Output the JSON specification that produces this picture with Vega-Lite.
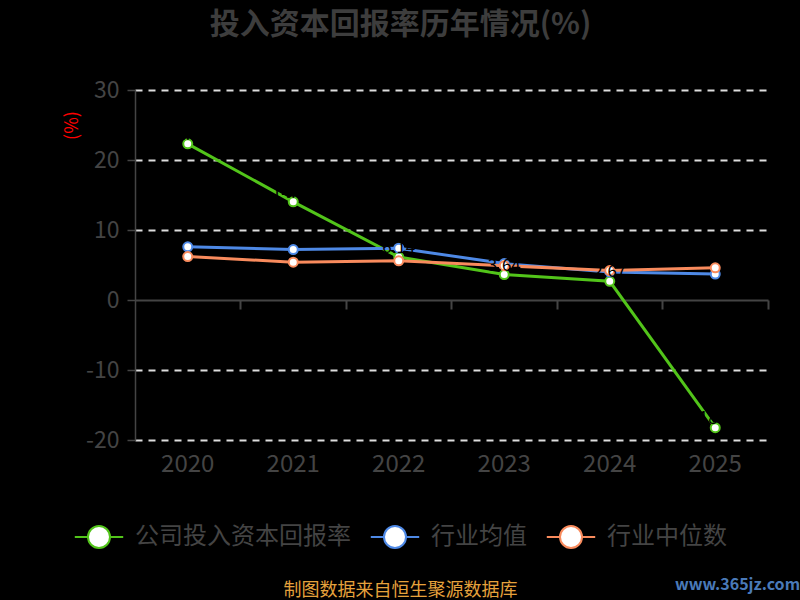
{
  "$schema": "https://vega.github.io/schema/vega-lite/v6.json",
  "width": 633,
  "height": 350,
  "autosize": {"type": "none"},
  "padding": {"left": 135, "top": 90, "right": 32, "bottom": 160},
  "background": "#000000",
  "config": {
    "font": "Noto Sans CJK SC",
    "view": {"stroke": null}
  },
  "title": {
    "text": "投入资本回报率历年情况(%)",
    "anchor": "middle",
    "frame": "group",
    "dx": -51,
    "offset": 39,
    "fontSize": 30,
    "fontWeight": "bold",
    "color": "#3d3d3d",
    "font": "Noto Sans CJK SC"
  },
  "data": {
    "values": [
      {"year": "2020", "series": "公司投入资本回报率", "value": 22.31},
      {"year": "2021", "series": "公司投入资本回报率", "value": 14.02},
      {"year": "2022", "series": "公司投入资本回报率", "value": 6.14},
      {"year": "2023", "series": "公司投入资本回报率", "value": 3.64},
      {"year": "2024", "series": "公司投入资本回报率", "value": 2.67},
      {"year": "2025", "series": "公司投入资本回报率", "value": -18.24},
      {"year": "2020", "series": "行业均值", "value": 7.6},
      {"year": "2021", "series": "行业均值", "value": 7.2},
      {"year": "2022", "series": "行业均值", "value": 7.4},
      {"year": "2023", "series": "行业均值", "value": 5.2},
      {"year": "2024", "series": "行业均值", "value": 4.0},
      {"year": "2025", "series": "行业均值", "value": 3.7},
      {"year": "2020", "series": "行业中位数", "value": 6.2},
      {"year": "2021", "series": "行业中位数", "value": 5.4},
      {"year": "2022", "series": "行业中位数", "value": 5.6},
      {"year": "2023", "series": "行业中位数", "value": 4.9},
      {"year": "2024", "series": "行业中位数", "value": 4.2},
      {"year": "2025", "series": "行业中位数", "value": 4.6}
    ]
  },
  "resolve": {"axis": {"x": "independent"}},
  "layer": [
    {
      "mark": {"type": "line", "strokeWidth": 3},
      "encoding": {
        "x": {
          "field": "year",
          "type": "nominal",
          "bandPosition": 0.5,
          "scale": {"type": "band", "paddingInner": 0, "paddingOuter": 0},
          "axis": {
            "orient": "bottom",
            "domain": false,
            "ticks": false,
            "grid": false,
            "labelAngle": 0,
            "labelFontSize": 24,
            "labelColor": "#444444",
            "labelPadding": 12,
            "title": "制图数据来自恒生聚源数据库",
            "titleColor": "#e6a23c",
            "titleFontSize": 18,
            "titleFontWeight": "normal",
            "titleX": 265,
            "titleY": 150,
            "titleAlign": "center",
            "titleBaseline": "middle"
          }
        },
        "y": {
          "field": "value",
          "type": "quantitative",
          "scale": {"domain": [-20, 30], "nice": false, "zero": false},
          "axis": {
            "values": [-20, -10, 0, 10, 20, 30],
            "labelExpr": "'' + datum.value",
            "grid": true,
            "gridColor": {"condition": {"test": "datum.value === 0", "value": "transparent"}, "value": "#dddddd"},
            "gridDash": [7, 6],
            "gridWidth": 2,
            "domainColor": "#444444",
            "domainWidth": 1.5,
            "tickColor": "#444444",
            "tickSize": 8,
            "tickWidth": 1.5,
            "labelFontSize": 23,
            "labelColor": "#444444",
            "labelPadding": 8,
            "title": "(%)",
            "titleColor": "#ff0000",
            "titleFontSize": 18,
            "titleFontWeight": "normal",
            "titleX": -63,
            "titleY": 35,
            "titleAngle": 270,
            "titleAlign": "center",
            "titleBaseline": "middle"
          }
        },
        "color": {
          "field": "series",
          "type": "nominal",
          "scale": {
            "domain": ["公司投入资本回报率", "行业均值", "行业中位数"],
            "range": ["#52c41a", "#4e89e6", "#f98b5d"]
          },
          "legend": {
            "orient": "none",
            "legendX": -48,
            "legendY": 435,
            "direction": "horizontal",
            "title": null,
            "symbolType": "M -1 0 A 1 1 0 1 1 1 0 A 1 1 0 1 1 -1 0 Z M -2.2 0 L -1 0 M 1 0 L 2.2 0",
            "symbolSize": 484,
            "symbolStrokeWidth": 2,
            "symbolFillColor": "#ffffff",
            "labelFontSize": 24,
            "labelColor": "#444444",
            "labelOffset": 24,
            "labelLimit": 400,
            "columnPadding": 15,
            "padding": 0
          }
        }
      }
    },
    {
      "mark": {"type": "point", "filled": false, "fill": "#ffffff", "fillOpacity": 1, "opacity": 1, "size": 81, "strokeWidth": 2},
      "encoding": {
        "x": {
          "field": "year",
          "type": "nominal",
          "bandPosition": 0.5,
          "axis": {
            "orient": "bottom",
            "offset": -140,
            "labels": false,
            "grid": false,
            "domain": true,
            "domainColor": "#444444",
            "domainWidth": 2,
            "ticks": true,
            "tickColor": "#444444",
            "tickSize": 9,
            "tickWidth": 2,
            "bandPosition": 1,
            "title": "www.365jz.com",
            "titleX": 602,
            "titleY": 284,
            "titleColor": "#4a7ab8",
            "titleFontSize": 16,
            "titleFontWeight": "bold",
            "titleAlign": "center",
            "titleBaseline": "middle"
          }
        },
        "y": {"field": "value", "type": "quantitative"},
        "color": {"field": "series", "type": "nominal"}
      }
    },
    {
      "transform": [{"filter": "datum.series === '公司投入资本回报率'"}],
      "mark": {"type": "text", "fontSize": 17, "color": "#000000", "dy": -9},
      "encoding": {
        "x": {"field": "year", "type": "nominal", "bandPosition": 0.5, "axis": null},
        "y": {"field": "value", "type": "quantitative"},
        "text": {"field": "value", "type": "quantitative", "format": ".2f"}
      }
    }
  ]
}
